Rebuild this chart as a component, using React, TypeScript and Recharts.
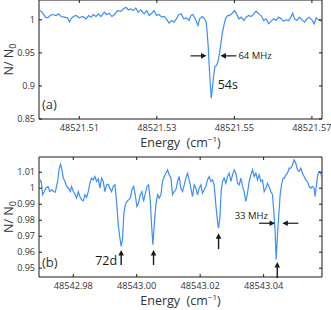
import React from "react";
import { LineChart, Line, XAxis, YAxis, ReferenceArea, ReferenceDot } from "recharts";

// panel (a): 54s resonance
const energyA = [
  48521.49963, 48521.50014, 48521.50057, 48521.50126, 48521.50186, 48521.50246, 48521.50314, 48521.504, 48521.50469, 48521.50529,
  48521.50614, 48521.507, 48521.50743, 48521.50786, 48521.50846, 48521.50914, 48521.51, 48521.51086, 48521.51171, 48521.5124,
  48521.513, 48521.5136, 48521.51429, 48521.51497, 48521.51557, 48521.51643, 48521.51703, 48521.51771, 48521.5184, 48521.51909,
  48521.51986, 48521.52071, 48521.52131, 48521.522, 48521.52269, 48521.52329, 48521.52397, 48521.52457, 48521.52517, 48521.52586,
  48521.52671, 48521.5274, 48521.528, 48521.52869, 48521.52929, 48521.52989, 48521.53057, 48521.53126, 48521.53186, 48521.53246,
  48521.53314, 48521.53383, 48521.53443, 48521.53503, 48521.53571, 48521.53631, 48521.53691, 48521.5376, 48521.53829, 48521.5388,
  48521.53931, 48521.54, 48521.5406, 48521.54103, 48521.54171, 48521.54231, 48521.54274, 48521.543, 48521.54326, 48521.54351,
  48521.54377, 48521.54403, 48521.54429, 48521.54463, 48521.54497, 48521.5454, 48521.54574, 48521.54617, 48521.54651, 48521.54686,
  48521.54729, 48521.54771, 48521.54823, 48521.54874, 48521.54943, 48521.55003, 48521.55054, 48521.55114, 48521.55174, 48521.55243,
  48521.55303, 48521.55371, 48521.55431, 48521.555, 48521.5556, 48521.55629, 48521.55689, 48521.55757, 48521.55817, 48521.55886,
  48521.55946, 48521.56014, 48521.56074, 48521.56143, 48521.56203, 48521.56271, 48521.56331, 48521.564, 48521.5646, 48521.56503,
  48521.56554, 48521.56614, 48521.56674, 48521.56743, 48521.56811, 48521.56871, 48521.56931, 48521.57, 48521.5706, 48521.57111,
  48521.57171, 48521.5724,
];
const ratioA = [
  1.014, 1.013, 1.01, 1.004, 1.003, 1.0065, 1.008, 1.0065, 1.009, 1.005,
  1.004, 1.003, 0.9965, 1.0015, 1.005, 1.0065, 1.003, 1.005, 1.0015, 1.0065,
  1.004, 1.008, 1.005, 1.009, 1.005, 1.0115, 1.008, 1.01, 1.005, 1.008,
  1.014, 1.013, 1.0165, 1.019, 1.015, 1.0165, 1.014, 1.018, 1.0115, 1.015,
  1.009, 1.014, 1.0065, 1.01, 1.014, 1.0065, 1.008, 1.004, 1.005, 1.0015,
  0.995, 0.999, 0.9965, 1.0015, 1.008, 1.009, 1.0015, 1.003, 0.999, 1.0065,
  1.008, 1.0, 0.9915, 1.0015, 1.005, 1.0015, 0.9965, 0.979, 0.959, 0.929,
  0.904, 0.8815, 0.894, 0.914, 0.929, 0.9315, 0.9365, 0.949, 0.964, 0.979,
  0.9915, 1.0015, 1.0065, 1.0065, 1.01, 1.014, 1.009, 1.0015, 1.004, 0.999,
  1.004, 1.0065, 1.005, 1.009, 1.013, 1.009, 1.0065, 0.999, 1.0015, 0.994,
  0.998, 1.0015, 0.999, 1.004, 1.0015, 0.998, 1.0, 0.999, 1.004, 1.01,
  1.0015, 0.999, 1.004, 1.0, 0.9965, 1.0015, 1.004, 1.0, 0.994, 1.003,
  1.0, 0.998,
];

// panel (b): 72d resonances
const energyB = [
  48542.96919, 48542.9695, 48542.96992, 48542.97034, 48542.97087, 48542.97139, 48542.97202, 48542.97265, 48542.97328, 48542.97381,
  48542.97433, 48542.97507, 48542.97559, 48542.97601, 48542.97643, 48542.97685, 48542.97738, 48542.9779, 48542.97853, 48542.97906,
  48542.97948, 48542.98, 48542.98053, 48542.98105, 48542.98158, 48542.9821, 48542.98263, 48542.98315, 48542.98368, 48542.9842,
  48542.98473, 48542.98525, 48542.98578, 48542.9863, 48542.98683, 48542.98735, 48542.98788, 48542.9884, 48542.98893, 48542.98945,
  48542.98998, 48542.9905, 48542.99103, 48542.99155, 48542.99208, 48542.9926, 48542.99313, 48542.99365, 48542.99418, 48542.9947,
  48542.99512, 48542.99554, 48542.99596, 48542.99638, 48542.99691, 48542.99743, 48542.99796, 48542.99848, 48542.99901, 48542.99953,
  48543.00006, 48543.00058, 48543.00111, 48543.00163, 48543.00216, 48543.00268, 48543.00321, 48543.00373, 48543.00426, 48543.00468,
  48543.0051, 48543.00552, 48543.00604, 48543.00657, 48543.00709, 48543.00762, 48543.00814, 48543.00867, 48543.00919, 48543.00972,
  48543.01024, 48543.01077, 48543.01129, 48543.01182, 48543.01234, 48543.01287, 48543.01339, 48543.01392, 48543.01444, 48543.01497,
  48543.01549, 48543.01602, 48543.01654, 48543.01707, 48543.01759, 48543.01812, 48543.01864, 48543.01917, 48543.01969, 48543.02022,
  48543.02074, 48543.02127, 48543.02179, 48543.02232, 48543.02284, 48543.02337, 48543.02389, 48543.02442, 48543.02494, 48543.02547,
  48543.02578, 48543.0262, 48543.02662, 48543.02704, 48543.02757, 48543.02809, 48543.02862, 48543.02914, 48543.02967, 48543.03019,
  48543.03072, 48543.03124, 48543.03177, 48543.03229, 48543.03282, 48543.03334, 48543.03387, 48543.03439, 48543.03492, 48543.03544,
  48543.03597, 48543.03649, 48543.03702, 48543.03754, 48543.03807, 48543.03859, 48543.03912, 48543.03964, 48543.04017, 48543.04069,
  48543.04122, 48543.04174, 48543.04227, 48543.04279, 48543.04321, 48543.04363, 48543.04395, 48543.04437, 48543.04479, 48543.04521,
  48543.04563, 48543.04615, 48543.04657, 48543.04699, 48543.04752, 48543.04804, 48543.04857, 48543.04909, 48543.04962, 48543.05014,
  48543.05067, 48543.05119, 48543.05172, 48543.05224, 48543.05277, 48543.05329, 48543.05382, 48543.05434, 48543.05487, 48543.05539,
  48543.05592, 48543.05623, 48543.05665, 48543.05707, 48543.05749, 48543.05802, 48543.05833,
];
const ratioB = [
  1.0011, 1.0052, 1.0042, 0.9959, 0.9979, 1.0, 1.0011, 0.9979, 0.999, 0.9979,
  0.9975, 1.0042, 1.0125, 1.015, 1.0115, 1.0063, 1.0042, 1.0011, 1.0, 0.9979,
  1.0011, 0.9979, 0.9963, 0.9938, 0.9979, 0.9948, 0.9927, 0.9921, 0.9959, 0.9942,
  0.9979, 1.0031, 1.0063, 1.0052, 1.0073, 1.0042, 1.0058, 1.0, 1.0063, 1.0042,
  0.9979, 1.0021, 1.0025, 1.0, 0.9979, 1.0011, 1.0021, 0.9917, 0.9771, 0.9688,
  0.9636, 0.9688, 0.9844, 0.9896, 0.9917, 0.9927, 0.9938, 0.999, 1.0011, 0.9959,
  0.9886, 0.9907, 0.9959, 0.9979, 0.9917, 0.9963, 1.0011, 1.0021, 0.9927, 0.9771,
  0.9647, 0.9771, 0.9896, 0.9959, 0.9938, 0.9959, 1.0046, 1.0073, 1.0094, 1.0115,
  1.0083, 1.0063, 0.9959, 0.9979, 0.999, 1.0042, 1.0073, 1.0, 0.9979, 1.0021,
  1.0063, 1.0094, 1.0052, 1.0, 0.9948, 1.0021, 1.0, 0.9959, 1.0, 1.0021,
  0.9969, 0.999, 1.0011, 1.0052, 1.0073, 1.0042, 1.0052, 1.0021, 0.9896, 0.9792,
  0.9751, 0.9813, 0.9979, 1.0042, 1.0063, 1.0031, 1.0073, 1.0094, 1.0042, 1.0083,
  1.0115, 1.0094, 1.0031, 1.0021, 1.0063, 1.0011, 0.9979, 0.9917, 0.9969, 1.0042,
  1.0083, 1.0115, 1.0073, 1.0094, 1.0052, 1.0083, 1.0042, 1.0052, 0.9979, 1.0,
  1.0031, 1.0011, 0.9979, 0.9959, 0.9855, 0.973, 0.9555, 0.9709, 0.9834, 0.9959,
  1.0021, 1.0063, 1.0063, 1.0083, 1.0094, 1.0125, 1.0125, 1.0146, 1.0177, 1.0156,
  1.0115, 1.0104, 1.0125, 1.0094, 1.0073, 1.0052, 1.0042, 1.0011, 1.0, 1.0011,
  1.0, 0.9948, 1.0021, 1.0083, 1.0104, 1.0094, 1.0063,
];

const xTicksA = [48521.51, 48521.53, 48521.55, 48521.57];
const yTicksA = [0.85, 0.9, 0.95, 1];
const xTicksB = [48542.98, 48543.0, 48543.02, 48543.04];
const yTicksB = [0.95, 0.96, 0.97, 0.98, 0.99, 1, 1.01];

const xRangeA = [48521.4996, 48521.5726];
const yRangeA = [0.85, 1.03];
const xRangeB = [48542.9692, 48543.0584];
const yRangeB = [0.9445, 1.0195];

// annotation anchors [energy, N/N0]
const widthA = [[48521.5428, 0.9455], [48521.5464, 0.9455]];
const stateA = [48521.5457, 0.9015];
const peaksB = [[48542.9951, 0.9614], [48543.0053, 0.9614], [48543.0258, 0.9719], [48543.0443, 0.9539]];
const widthB = [[48543.0436, 0.9781], [48543.0459, 0.9781]];

const rowsA = energyA.map((e, i) => ({ e, n: ratioA[i] }));
const rowsB = energyB.map((e, i) => ({ e, n: ratioB[i] }));

const FONT = "'Open Sans', sans-serif";
const INK = "#1a1a1a";
const TXT = "#333333";
const BLUE = "#3d8ef8";

const makeXTick = (h: number) => (p: any) => {
  const { x, y, payload } = p;
  return (
    <g>
      <line x1={x} y1={y} x2={x} y2={y - 3} stroke={INK} />
      <line x1={x} y1={y - h} x2={x} y2={y - h + 3} stroke={INK} />
      <text x={x} y={y + 12} textAnchor="middle" fontSize={9.2} fontFamily={FONT} fill={TXT}>
        {Number(payload.value).toFixed(2)}
      </text>
    </g>
  );
};

const makeYTick = (w: number) => (p: any) => {
  const { x, y, payload } = p;
  return (
    <g>
      <line x1={x} y1={y} x2={x + 3} y2={y} stroke={INK} />
      <line x1={x + w} y1={y} x2={x + w - 3} y2={y} stroke={INK} />
      <text x={x - 4} y={y} dy="0.35em" textAnchor="end" fontSize={9} fontFamily={FONT} fill={TXT}>
        {String(payload.value)}
      </text>
    </g>
  );
};

const xTitle = (p: any) => {
  const vb = p.viewBox;
  return (
    <text x={vb.x + vb.width / 2} y={vb.y + 28} textAnchor="middle" fontSize={12.5} fontFamily={FONT} fill={TXT}>
      Energy{"\u00a0\u00a0"}(cm
      <tspan dy={-5} fontSize={8}>−1</tspan>
      <tspan dy={5}>)</tspan>
    </text>
  );
};

const yTitle = (p: any) => {
  const vb = p.viewBox;
  const cx = 8.5;
  const cy = vb.y + vb.height / 2;
  return (
    <text
      transform={`rotate(-90 ${cx} ${cy})`}
      x={cx}
      y={cy}
      dy="0.35em"
      textAnchor="middle"
      fontSize={12.5}
      fontFamily={FONT}
      fill={TXT}
    >
      N/ N<tspan dy={3} fontSize={9}>0</tspan>
    </text>
  );
};

const panelTag = (tag: string) => (p: any) => {
  const vb = p.viewBox;
  return (
    <text x={vb.x + 3} y={vb.y + vb.height - 10} fontSize={13} fontFamily={FONT} fill={TXT}>
      {tag}
    </text>
  );
};

// horizontal arrow, head at the anchor; dir 1 points right, -1 points left
const hArrow = (dir: number, len: number) => (p: any) => {
  const { cx, cy } = p;
  return (
    <g>
      <line x1={cx - dir * len} y1={cy} x2={cx - dir * 4} y2={cy} stroke={INK} strokeWidth={1.2} />
      <polygon points={`${cx},${cy} ${cx - dir * 5.5},${cy - 2.8} ${cx - dir * 5.5},${cy + 2.8}`} fill={INK} />
    </g>
  );
};

const upArrow = (len: number) => (p: any) => {
  const { cx, cy } = p;
  return (
    <g>
      <line x1={cx} y1={cy + len} x2={cx} y2={cy + 4} stroke={INK} strokeWidth={1.4} />
      <polygon points={`${cx},${cy} ${cx - 2.8},${cy + 5.5} ${cx + 2.8},${cy + 5.5}`} fill={INK} />
    </g>
  );
};

const note = (text: string, dx: number, dy: number, size: number, anchor: string) => (p: any) => (
  <text x={p.cx + dx} y={p.cy + dy} textAnchor={anchor} fontSize={size} fontFamily={FONT} fill={INK}>
    {text}
  </text>
);

export default function App() {
  return (
    <div style={{ position: "absolute", left: 0, top: 0, width: 331, height: 310, background: "#fff" }}>
      <div style={{ position: "absolute", left: 0, top: 0 }}>
        <LineChart width={331} height={155} data={rowsA} margin={{ top: 0, right: 9, bottom: 0, left: 0 }}>
          <XAxis
            dataKey="e"
            type="number"
            domain={xRangeA}
            allowDataOverflow
            ticks={xTicksA}
            interval={0}
            tickSize={0}
            tickMargin={0}
            axisLine={false}
            tickLine={false}
            height={36}
            tick={makeXTick(119)}
            label={xTitle}
          />
          <YAxis
            type="number"
            domain={yRangeA}
            allowDataOverflow
            ticks={yTicksA}
            interval={0}
            width={39}
            tickSize={0}
            tickMargin={0}
            axisLine={false}
            tickLine={false}
            tick={makeYTick(283)}
            label={yTitle}
          />
          <ReferenceArea
            x1={xRangeA[0]}
            x2={xRangeA[1]}
            y1={yRangeA[0]}
            y2={yRangeA[1]}
            fill="none"
            stroke={INK}
            strokeWidth={1}
            ifOverflow="visible"
            label={panelTag("(a)")}
          />
          <Line type="linear" dataKey="n" stroke={BLUE} strokeWidth={1.2} dot={false} isAnimationActive={false} />
          <ReferenceDot x={widthA[0][0]} y={widthA[0][1]} ifOverflow="visible" shape={hArrow(1, 16)} />
          <ReferenceDot x={widthA[1][0]} y={widthA[1][1]} ifOverflow="visible" shape={hArrow(-1, 16)} />
          <ReferenceDot x={widthA[1][0]} y={widthA[1][1]} ifOverflow="visible" shape={note("64 MHz", 18, 3.5, 9.5, "start")} />
          <ReferenceDot x={stateA[0]} y={stateA[1]} ifOverflow="visible" shape={note("54s", 0, 4.5, 12.5, "start")} />
        </LineChart>
      </div>
      <div style={{ position: "absolute", left: 0, top: 155 }}>
        <LineChart width={331} height={155} data={rowsB} margin={{ top: 2, right: 9, bottom: 0, left: 0 }}>
          <XAxis
            dataKey="e"
            type="number"
            domain={xRangeB}
            allowDataOverflow
            ticks={xTicksB}
            interval={0}
            tickSize={0}
            tickMargin={0}
            axisLine={false}
            tickLine={false}
            height={33}
            tick={makeXTick(120)}
            label={xTitle}
          />
          <YAxis
            type="number"
            domain={yRangeB}
            allowDataOverflow
            ticks={yTicksB}
            interval={0}
            width={39}
            tickSize={0}
            tickMargin={0}
            axisLine={false}
            tickLine={false}
            tick={makeYTick(283)}
            label={yTitle}
          />
          <ReferenceArea
            x1={xRangeB[0]}
            x2={xRangeB[1]}
            y1={yRangeB[0]}
            y2={yRangeB[1]}
            fill="none"
            stroke={INK}
            strokeWidth={1}
            ifOverflow="visible"
            label={panelTag("(b)")}
          />
          <Line type="linear" dataKey="n" stroke={BLUE} strokeWidth={1.2} dot={false} isAnimationActive={false} />
          {peaksB.map((pk, i) => (
            <ReferenceDot key={"pk" + i} x={pk[0]} y={pk[1]} ifOverflow="visible" shape={upArrow(i < 2 ? 15 : 16)} />
          ))}
          <ReferenceDot x={peaksB[0][0]} y={peaksB[0][1]} ifOverflow="visible" shape={note("72d", -4, 15, 12.5, "end")} />
          <ReferenceDot x={widthB[0][0]} y={widthB[0][1]} ifOverflow="visible" shape={hArrow(1, 16)} />
          <ReferenceDot x={widthB[1][0]} y={widthB[1][1]} ifOverflow="visible" shape={hArrow(-1, 16)} />
          <ReferenceDot x={widthB[0][0]} y={widthB[0][1]} ifOverflow="visible" shape={note("33 MHz", -7, -4, 9.5, "end")} />
        </LineChart>
      </div>
    </div>
  );
}
